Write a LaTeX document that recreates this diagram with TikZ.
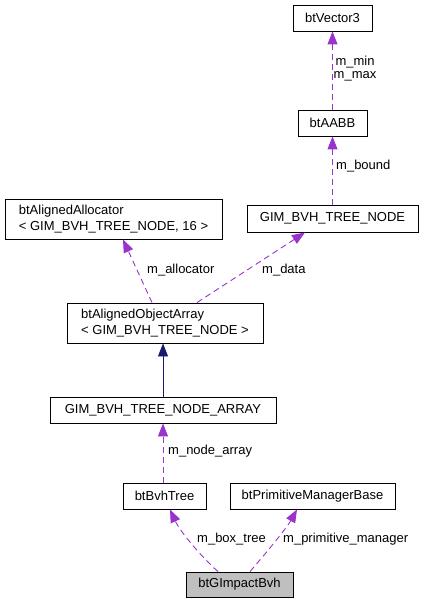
\documentclass[tikz,border=0pt]{standalone}
\usepackage{fontspec}
\setmainfont{Liberation Sans}
\usetikzlibrary{arrows.meta}
\definecolor{dep}{HTML}{9A32CD}
\definecolor{inh}{HTML}{191970}
\begin{document}
\begin{tikzpicture}[x=1pt,y=-1pt,
  box/.style={draw=black, line width=0.9pt, fill=white, inner sep=0pt, font=\fontsize{13pt}{15.5pt}\selectfont},
  rel/.style={draw=dep, line width=0.9pt, dash pattern=on 6pt off 4pt, -{Triangle[length=13pt,width=10pt,fill=dep]}},
  inhe/.style={draw=inh, line width=0.9pt, -{Triangle[length=13pt,width=10pt,fill=inh]}},
  lab/.style={inner sep=0pt, anchor=west, font=\fontsize{13pt}{13.5pt}\selectfont}]
\useasboundingbox (0,0) rectangle (423,604);
\node[box, minimum width=79pt, minimum height=26pt] (v3) at (332.5,18) {btVector3};
\node[box, minimum width=69pt, minimum height=26pt] (aabb) at (332.5,123) {btAABB};
\node[box, minimum width=171pt, minimum height=27pt] (gnode) at (332.5,218.5) {GIM\_BVH\_TREE\_NODE};
\node[box, minimum width=217pt, minimum height=40pt, align=left] (alloc) at (113.5,219) {btAlignedAllocator\\< GIM\_BVH\_TREE\_NODE, 16 >};
\node[box, minimum width=196pt, minimum height=40pt, align=left] (aoa) at (165,323) {btAlignedObjectArray\\< GIM\_BVH\_TREE\_NODE >};
\node[box, minimum width=226pt, minimum height=26pt] (garr) at (163,410) {GIM\_BVH\_TREE\_NODE\_ARRAY};
\node[box, minimum width=83pt, minimum height=26pt] (bvh) at (164.5,496) {btBvhTree};
\node[box, minimum width=165pt, minimum height=26pt] (prim) at (312.5,496) {btPrimitiveManagerBase};
\node[box, fill={rgb,255:red,191;green,191;blue,191}, minimum width=107pt, minimum height=25pt] (gi) at (239.5,584.5) {btGImpactBvh};

\draw[rel] (aabb.north) -- (v3.south);
\draw[rel] (gnode.north) -- (aabb.south);
\draw[rel] ([xshift=-13pt]aoa.north) -- ([xshift=9.5pt]alloc.south);
\draw[rel] ([xshift=32pt]aoa.north) -- ([xshift=-27.5pt]gnode.south);
\draw[inhe] ([xshift=-2pt]aoa.south |- garr.north) -- ([xshift=-2pt]aoa.south);
\draw[rel] ([xshift=-1.5pt]bvh.north) -- (garr.south);
\draw[rel] ([xshift=-21.5pt]gi.north) .. controls +(-16,-14) and +(10,22) .. ([xshift=5.5pt]bvh.south);
\draw[rel] ([xshift=10.5pt]gi.north) .. controls +(14,-16) and +(-10,18) .. ([xshift=-15.5pt]prim.south);

\node[lab, align=center, anchor=center] (lminmax) at (355,68.5) {m\_min\\m\_max};
\node[lab] (lbound) at (336,166) {m\_bound};
\node[lab] (lalloc) at (147,270) {m\_allocator};
\node[lab] (ldata) at (262,270) {m\_data};
\node[lab] (lnode) at (168,451) {m\_node\_array};
\node[lab] (lbox) at (197,539) {m\_box\_tree};
\node[lab] (lprim) at (283,539) {m\_primitive\_manager};
\end{tikzpicture}
\end{document}
